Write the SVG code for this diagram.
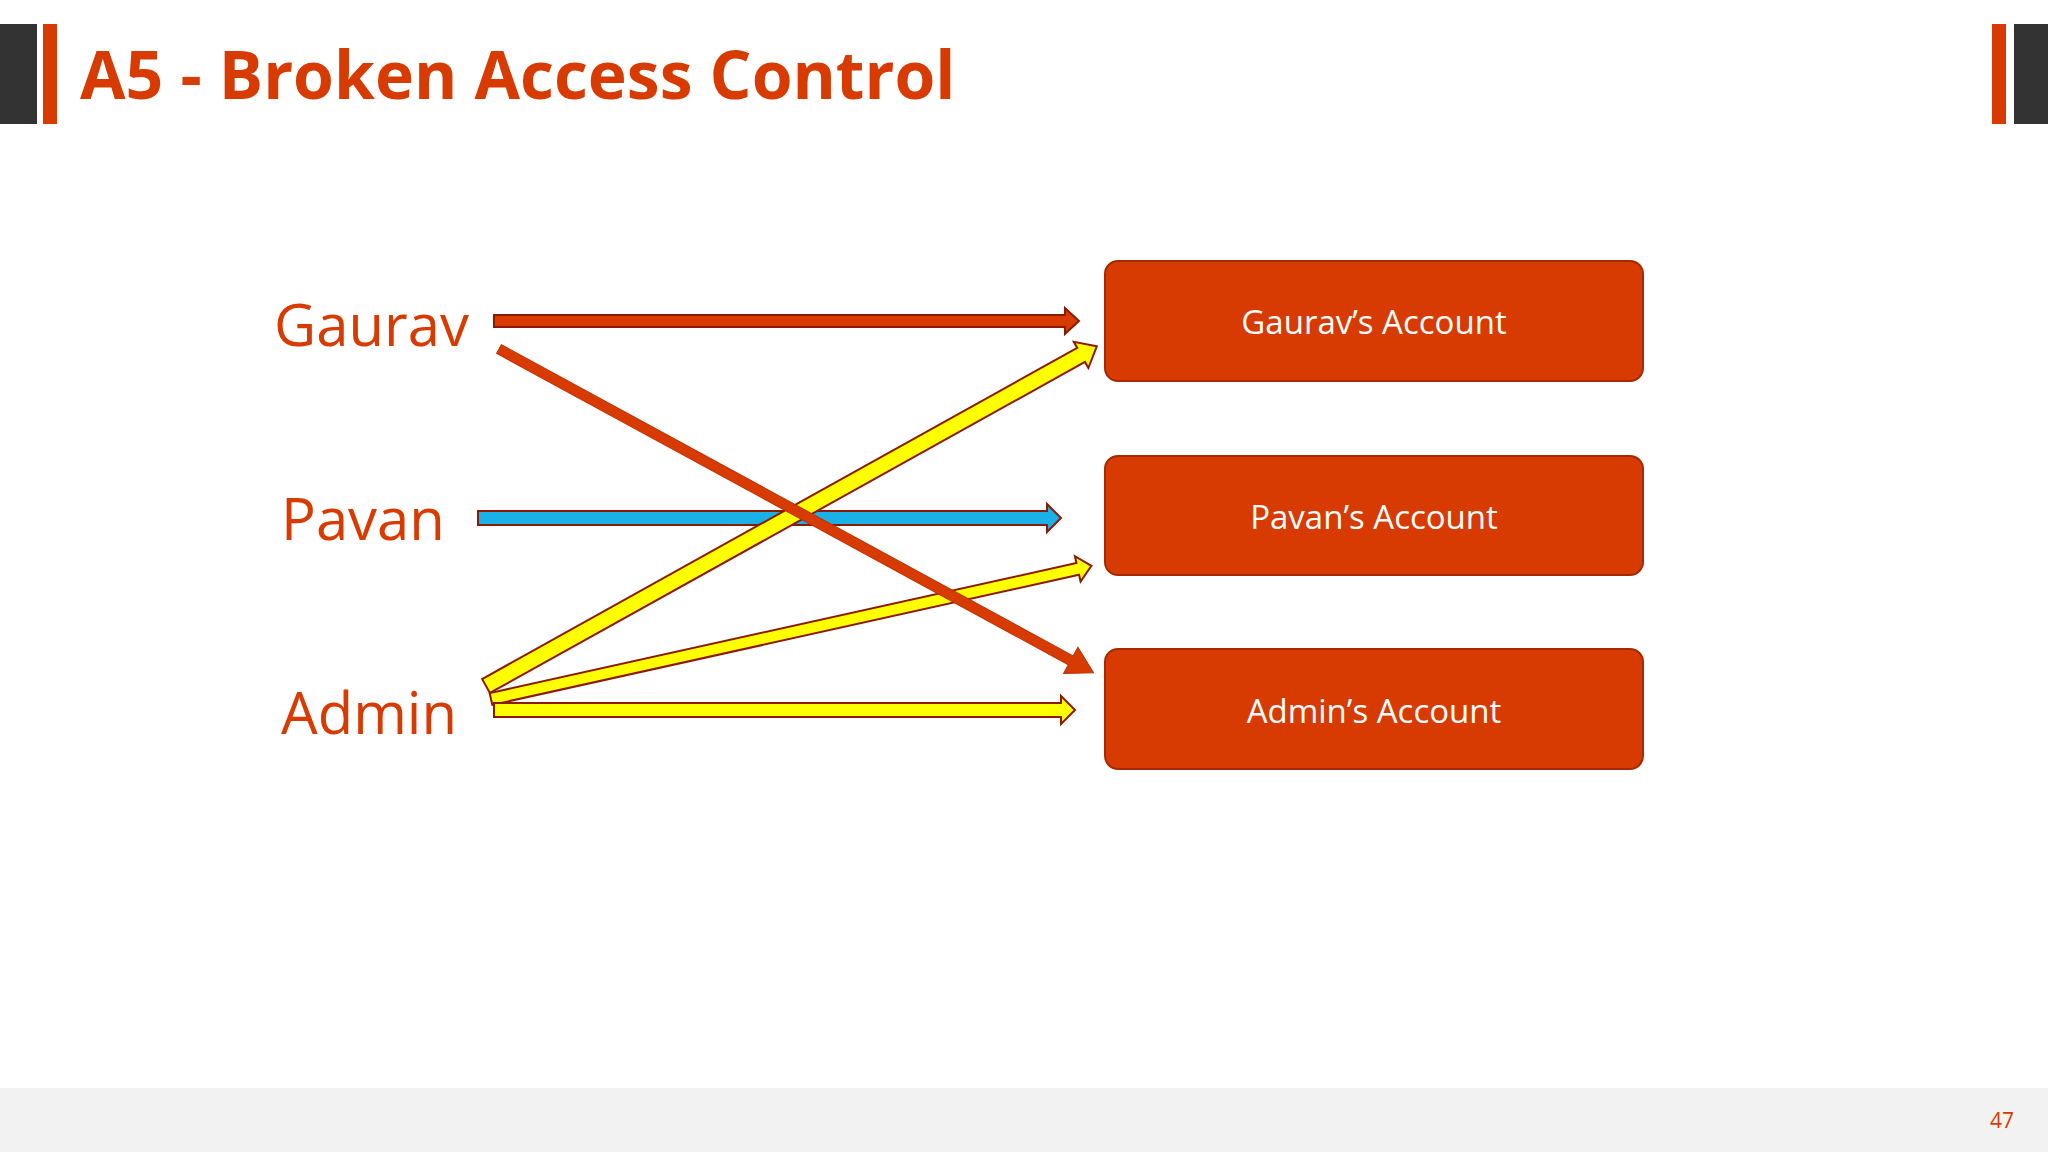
<svg xmlns="http://www.w3.org/2000/svg" width="2048" height="1152" viewBox="0 0 2048 1152">
<style>
.t{font-family:"Open Sans","Noto Sans",sans-serif}
.lbl{font-size:58px;fill:#d83b01}
.box{fill:#d83b01;stroke:#a52a00;stroke-width:2}
.bt{font-size:33px;fill:#fff;text-anchor:middle}
.ar{stroke:#8b1a00;stroke-width:2;stroke-linejoin:miter}
.y{fill:#ffff00}
</style>
<rect width="2048" height="1152" fill="#fff"/>
<rect x="0" y="1088" width="2048" height="64" fill="#f2f2f2"/>
<rect x="0" y="24" width="37" height="100" fill="#333"/>
<rect x="43" y="24" width="14" height="100" fill="#d83b01"/>
<rect x="1992" y="24" width="14" height="100" fill="#d83b01"/>
<rect x="2014" y="24" width="34" height="100" fill="#333"/>
<text class="t" x="80" y="99" font-size="66" font-weight="bold" fill="#d83b01">A5 - Broken Access Control</text>
<text class="t" x="2014" y="1128" font-size="21" fill="#d83b01" text-anchor="end">47</text>
<g id="gaurav"><text class="t lbl" x="274" y="346">Gaurav</text></g>
<g id="pavan"><text class="t lbl" x="281" y="540">Pavan</text></g>
<g id="admin"><text class="t lbl" x="281" y="734">Admin</text></g>
<g id="gacc"><rect class="box" x="1105" y="261" width="538" height="120" rx="13"/><text class="t bt" x="1374" y="334">Gaurav’s Account</text></g>
<g id="pacc"><rect class="box" x="1105" y="456" width="538" height="119" rx="13"/><text class="t bt" x="1374" y="529">Pavan’s Account</text></g>
<g id="aacc"><rect class="box" x="1105" y="649" width="538" height="120" rx="13"/><text class="t bt" x="1374" y="723">Admin’s Account</text></g>
<g id="connectors">
<polygon class="ar" fill="#1ab0e8" transform="translate(478,518)" points="0,-7 569,-7 569,-14 583,0 569,14 569,7 0,7"/>
<polygon class="ar y" transform="translate(486,686) rotate(-29.09)" points="0,-8 681,-8 681,-15 699,0 681,15 681,8 0,8"/>
<polygon class="ar y" transform="translate(491,699) rotate(-12.5)" points="0,-6 601,-6 601,-13 615,0 601,13 601,6 0,6"/>
<polygon class="ar y" transform="translate(494,710)" points="0,-7 567,-7 567,-14 581,0 567,14 567,7 0,7"/>
<polygon fill="#d83b01" stroke="#c03000" stroke-width="1" transform="translate(499,349) rotate(28.57)" points="0,-5 651,-5 651,-15 677,0 651,15 651,5 0,5"/>
<polygon class="ar" fill="#d83b01" transform="translate(494,321)" points="0,-6 571,-6 571,-13 585,0 571,13 571,6 0,6"/>
</g>
</svg>
